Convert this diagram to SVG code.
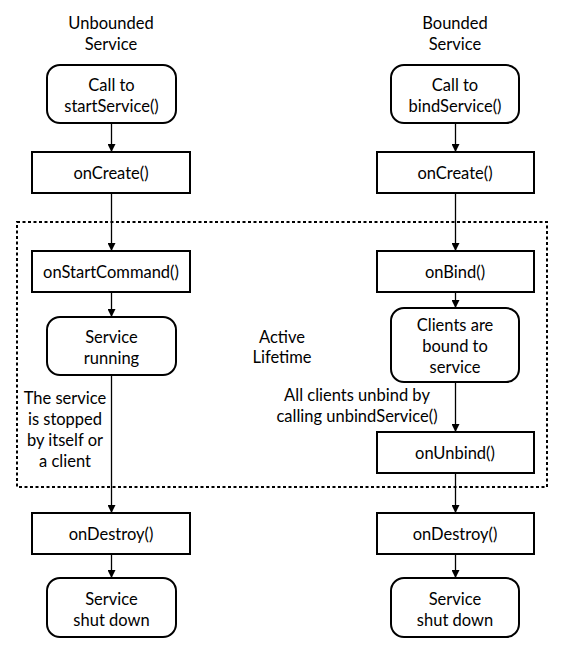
<svg xmlns="http://www.w3.org/2000/svg" width="561" height="666" viewBox="0 0 561 666">
<style>
text{font-family:Lato,"Open Sans","Liberation Sans",sans-serif;font-size:16.5px;fill:#000;text-anchor:middle}
.box{fill:#fff;stroke:#000;stroke-width:2}
.ln{stroke:#000;stroke-width:1.3;fill:none;marker-end:url(#ah)}
</style>
<defs>
<marker id="ah" viewBox="0 0 10 10" refX="10" refY="5" markerWidth="8" markerHeight="8" markerUnits="userSpaceOnUse" orient="auto">
<path d="M0,0 L10,5 L0,10 z" fill="#000"/>
</marker>
</defs>
<rect x="17" y="222" width="530" height="265" fill="none" stroke="#000" stroke-width="2" stroke-dasharray="3,2.5"/>
<g id="connectors">
<line class="ln" x1="111.5" y1="123" x2="111.5" y2="152"/>
<line class="ln" x1="111.5" y1="193" x2="111.5" y2="251"/>
<line class="ln" x1="111.5" y1="292" x2="111.5" y2="317"/>
<line class="ln" x1="111.5" y1="375" x2="111.5" y2="513"/>
<line class="ln" x1="111.5" y1="554" x2="111.5" y2="578"/>
<line class="ln" x1="455.5" y1="123" x2="455.5" y2="152"/>
<line class="ln" x1="455.5" y1="193" x2="455.5" y2="251"/>
<line class="ln" x1="455.5" y1="292" x2="455.5" y2="308"/>
<line class="ln" x1="455.5" y1="382" x2="455.5" y2="432"/>
<line class="ln" x1="455.5" y1="473" x2="455.5" y2="513"/>
<line class="ln" x1="455.5" y1="554" x2="455.5" y2="578"/>
</g>
<g id="label-unbounded"><text x="111" y="29">Unbounded</text><text x="111" y="50">Service</text></g>
<g id="label-bounded"><text x="455" y="29">Bounded</text><text x="455" y="50">Service</text></g>
<g id="start"><rect class="box" x="47" y="65" width="129" height="58" rx="13"/><text x="111.5" y="91">Call to</text><text x="111.5" y="112">startService()</text></g>
<g id="onCreateL"><rect class="box" x="32" y="152" width="158" height="41"/><text x="111" y="179">onCreate()</text></g>
<g id="onStartCommand"><rect class="box" x="32" y="251" width="158" height="41"/><text x="111" y="278">onStartCommand()</text></g>
<g id="running"><rect class="box" x="47" y="317" width="129" height="58" rx="13"/><text x="111.5" y="343">Service</text><text x="111.5" y="364">running</text></g>
<g id="stopped-label"><text x="65" y="404">The service</text><text x="65" y="425">is stopped</text><text x="65" y="446">by itself or</text><text x="65" y="467">a client</text></g>
<g id="onDestroyL"><rect class="box" x="32" y="513" width="158" height="41"/><text x="111" y="540">onDestroy()</text></g>
<g id="shutL"><rect class="box" x="47" y="578" width="129" height="59" rx="13"/><text x="111.5" y="605">Service</text><text x="111.5" y="626">shut down</text></g>
<g id="bind"><rect class="box" x="391" y="65" width="128" height="58" rx="13"/><text x="455" y="91">Call to</text><text x="455" y="112">bindService()</text></g>
<g id="onCreateR"><rect class="box" x="377" y="152" width="157" height="41"/><text x="455" y="179">onCreate()</text></g>
<g id="onBind"><rect class="box" x="377" y="251" width="157" height="41"/><text x="455" y="278">onBind()</text></g>
<g id="bound"><rect class="box" x="391" y="308" width="128" height="74" rx="13"/><text x="455" y="331">Clients are</text><text x="455" y="352">bound to</text><text x="455" y="373">service</text></g>
<g id="unbind-label"><text x="357" y="401">All clients unbind by</text><text x="357" y="422">calling unbindService()</text></g>
<g id="onUnbind"><rect class="box" x="377" y="432" width="157" height="41"/><text x="455" y="459">onUnbind()</text></g>
<g id="onDestroyR"><rect class="box" x="377" y="513" width="157" height="41"/><text x="455" y="540">onDestroy()</text></g>
<g id="shutR"><rect class="box" x="391" y="578" width="128" height="59" rx="13"/><text x="455" y="605">Service</text><text x="455" y="626">shut down</text></g>
<g id="active-label"><text x="282" y="343">Active</text><text x="282" y="363">Lifetime</text></g>
</svg>
